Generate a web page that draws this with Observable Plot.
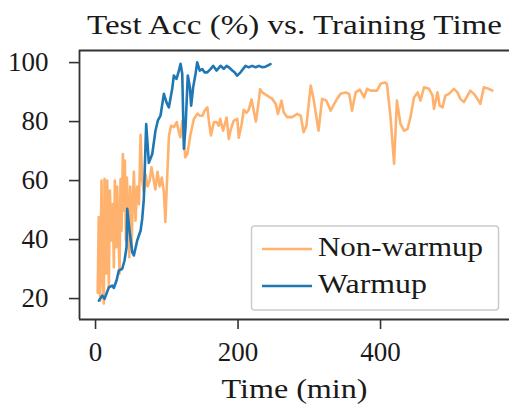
<!DOCTYPE html>
<html>
<head>
<meta charset="utf-8">
<script src="https://cdn.jsdelivr.net/npm/d3@7"></script>
<script src="https://cdn.jsdelivr.net/npm/@observablehq/plot@0.6"></script>
<style>
  html, body { margin: 0; padding: 0; background: #fff; }
  #chart svg { display: block; }
</style>
</head>
<body>
<div id="chart"></div>
<script>
const chartTitle = "Test Acc (%) vs. Training Time";
const xLabel = "Time (min)";
const seriesNames = ["Non-warmup", "Warmup"];
const seriesColors = ["#ffb26e", "#1f77b4"];
const xTicks = [0, 200, 400];
const yTicks = [20, 40, 60, 80, 100];

const nonWarmupTime = [3, 4.5, 6.5, 8.4, 9.5, 11.7, 12.6, 15, 16.4, 18.7, 20.1, 22.5, 24.3, 25.7, 27.1, 29, 30.4, 31.8, 33.7, 35.1, 36.5, 38.4, 39.8, 41.2, 42.6, 44, 45.8, 47.3, 48.7, 50.5, 52.4, 53.8, 56.1, 58.5, 61, 63.2, 65.5, 68, 70.5, 73, 76, 78.5, 81, 84, 87, 90, 93, 96, 98, 100, 103, 106, 110, 114, 117, 119, 122, 124, 126, 129, 133, 138, 143, 146, 150, 153, 157, 159, 162, 166, 170, 173, 175, 179, 184, 187, 190, 194, 199, 201, 205, 208, 212, 215, 219, 225, 228, 231, 234, 241, 248, 253, 256, 261, 264, 269, 276, 283, 288, 292, 296, 302, 306, 313, 318, 324, 330, 335, 339, 344, 351, 356, 360, 365, 371, 377, 381, 386, 391, 395, 400, 406, 409, 414, 419, 423, 428, 433, 438, 442, 447, 452, 456, 461, 468, 473, 475, 480, 483, 487, 491, 496, 503, 508, 512, 517, 522, 526, 531, 536, 540, 545, 552, 557];
const nonWarmupAcc = [22, 47.6, 19.3, 60, 30, 18.3, 60.6, 28.5, 60, 23.8, 56.6, 39.7, 52, 30.6, 60, 37.4, 58, 45, 28.5, 60.5, 43, 69, 49.8, 66.8, 39.7, 61, 49, 34, 58, 37.4, 53, 63, 46.4, 58, 52, 75.5, 60, 56, 62, 58, 60, 64.5, 61, 57, 63, 58, 61, 56, 46, 58, 75, 78.6, 78.1, 79.8, 76.4, 74.7, 80.3, 73.6, 67.9, 69.1, 75.3, 80.9, 82.7, 82, 82, 83.7, 84.8, 80.3, 75.3, 79.8, 79.8, 78.6, 80.9, 76.9, 81.4, 74.1, 77.5, 80.3, 80.9, 74.5, 79, 84, 83, 84, 87.5, 80, 85, 91, 89.9, 88.8, 87.7, 86, 82.6, 87.1, 83.2, 81.5, 81.5, 82.6, 82, 76.4, 78.6, 92.2, 87.7, 76.9, 87.7, 87.1, 83.7, 86, 87.7, 89.4, 89.9, 89.4, 83.7, 89.9, 90.8, 88.2, 91.1, 90.5, 90.5, 90.5, 92.8, 93.3, 92.8, 81.5, 65.7, 87.1, 79.2, 76.9, 77.5, 81.5, 88.2, 89.9, 87.1, 91.6, 91.1, 88.8, 84.3, 89.9, 85.4, 84.8, 88.8, 89.4, 91.1, 89.9, 87.7, 86.6, 88.8, 90.5, 89.4, 87.7, 86, 91.6, 91.1, 90.5];

const warmupTime = [4.7, 9.4, 12.6, 18.7, 23.4, 25.7, 29.5, 32.7, 37.5, 40.7, 43.5, 44.5, 47.7, 51.5, 53.8, 58.5, 63.2, 65.5, 67.8, 71.1, 74.8, 79.6, 84.2, 87.4, 91.2, 95.9, 99.6, 102.9, 107.6, 109.9, 113.7, 117, 119.3, 121.7, 124, 126.3, 129.5, 132.4, 134.2, 137, 140.4, 142.7, 146.3, 149.7, 153, 156.8, 161.4, 165.1, 169.8, 175.4, 180, 183.9, 187.1, 191.9, 195.1, 198.9, 203.5, 210.5, 215, 220, 224.6, 229.3, 234, 238.6, 245.6];
const warmupAcc = [19.3, 21, 19.9, 23.8, 24.4, 23.6, 26.1, 29.5, 30.1, 32.9, 37.4, 50.4, 43, 35.7, 34.6, 39.7, 43, 47, 53.8, 79.2, 66, 69, 77, 80.3, 82, 89.4, 86.5, 84.8, 91.1, 95.6, 94.5, 97.3, 99.6, 96.2, 70.8, 78.1, 95.6, 91.6, 85.4, 91.6, 96.2, 100.1, 97.3, 97.8, 96.7, 96.7, 97.8, 98.9, 97.3, 98.9, 97.9, 98.9, 98.4, 97.3, 96.7, 95.6, 96.7, 98.9, 98.4, 98.9, 98.4, 98.9, 98.4, 98.6, 99.5];

const xDomain = [-22.5, 581];
const yDomain = [12.9, 104.1];
const font = "'Liberation Serif', 'DejaVu Serif', serif";
const ink = "#1a1a1a";
const spine = "#333";

const nonWarmup = nonWarmupTime.map((t, i) => ({time: t, acc: nonWarmupAcc[i]}));
const warmup = warmupTime.map((t, i) => ({time: t, acc: warmupAcc[i]}));

const svg = Plot.plot({
  width: 509,
  height: 406,
  marginLeft: 79,
  marginRight: 0,
  marginTop: 50,
  marginBottom: 87,
  style: {fontFamily: font, fontSize: "27px", color: ink, background: "#fff", overflow: "visible"},
  x: {domain: xDomain, ticks: xTicks, tickSize: 10, tickPadding: 12, label: null, line: false},
  y: {domain: yDomain, ticks: yTicks, tickSize: 10, tickPadding: 21, label: null, line: false},
  marks: [
    Plot.line(nonWarmup, {x: "time", y: "acc", stroke: seriesColors[0], strokeWidth: 2.6, strokeLinejoin: "round"}),
    Plot.line(warmup, {x: "time", y: "acc", stroke: seriesColors[1], strokeWidth: 2.6, strokeLinejoin: "round"}),
    Plot.ruleX([xDomain[0]], {stroke: spine, strokeWidth: 1.8}),
    Plot.ruleY([yDomain[0]], {stroke: spine, strokeWidth: 1.8}),
    Plot.ruleY([yDomain[1]], {stroke: spine, strokeWidth: 1.8}),
    Plot.text([chartTitle], {text: d => d, frameAnchor: "top", lineAnchor: "bottom", dy: -17, fontSize: 27, fill: ink}),
    Plot.text([xLabel], {text: d => d, frameAnchor: "bottom", lineAnchor: "bottom", dy: 78, fontSize: 27, fill: ink})
  ]
});

// slightly heavier tick marks, like the original
d3.select(svg).selectAll('g[aria-label="x-axis tick"], g[aria-label="y-axis tick"], g[aria-label="x-axis"] .tick line, g[aria-label="y-axis"] .tick line')
  .attr("stroke-width", 1.6).attr("stroke", spine);

// widen the serif text to match the wide Computer Modern proportions of the original
const widths = {[chartTitle]: 415, [xLabel]: 146};
d3.select(svg).selectAll("text").filter(function () { return widths[this.textContent] != null; })
  .each(function () {
    d3.select(this).attr("textLength", widths[this.textContent]).attr("lengthAdjust", "spacingAndGlyphs");
  });

// legend
const legendWidths = [165, 109];
const lg = d3.select(svg).append("g");
lg.append("rect").attr("x", 251.5).attr("y", 226).attr("width", 247).attr("height", 84)
  .attr("rx", 3).attr("fill", "#fff").attr("fill-opacity", 0.85).attr("stroke", "#ccc").attr("stroke-width", 1.5);
seriesNames.forEach((name, i) => {
  const yy = 249 + i * 37;
  lg.append("line").attr("x1", 262).attr("x2", 312).attr("y1", yy).attr("y2", yy)
    .attr("stroke", seriesColors[i]).attr("stroke-width", 2.6);
  lg.append("text").attr("x", 318).attr("y", yy + 7)
    .style("font-family", font).style("font-size", "27px").style("text-anchor", "start")
    .attr("textLength", legendWidths[i]).attr("lengthAdjust", "spacingAndGlyphs")
    .attr("fill", ink).text(name);
});

document.getElementById("chart").appendChild(svg);
</script>
</body>
</html>
